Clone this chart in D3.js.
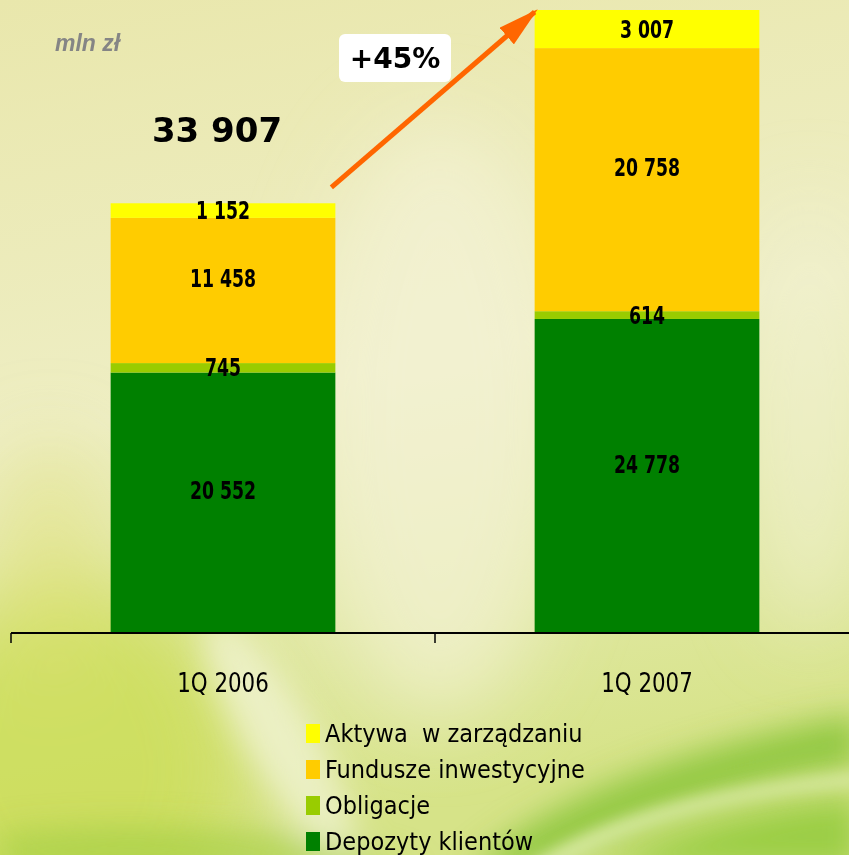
<!DOCTYPE html>
<html>
<head>
<meta charset="utf-8">
<script src="https://cdn.jsdelivr.net/npm/d3@7"></script>
<style>
  body { margin: 0; padding: 0; overflow: hidden; }
  svg { display: block; }
</style>
</head>
<body>
<div id="chart"></div>
<script>
/** categories and series (mln zł) */
var quarters = ["1Q 2006", "1Q 2007"];
var seriesNames = ["Depozyty klientów", "Obligacje", "Fundusze inwestycyjne", "Aktywa  w zarządzaniu"];
var depozyty = [20552, 24778];
var obligacje = [745, 614];
var fundusze = [11458, 20758];
var aktywa = [1152, 3007];
var totalLabel = "33 907";
var growthLabel = "+45%";
var unitLabel = "mln zł";

var colours = ["#008000", "#99cc00", "#ffcc00", "#ffff00"];

var width = 849, height = 855;

var svg = d3.select("#chart")
  .append("svg")
    .attr("width", width)
    .attr("height", height);

/** background */
var defs = svg.append("defs");
var bg = defs.append("linearGradient").attr("id", "bg")
  .attr("x1", 0).attr("y1", 0).attr("x2", 0.2).attr("y2", 1);
bg.append("stop").attr("offset", 0).attr("stop-color", "#e9e7ac");
bg.append("stop").attr("offset", 0.5).attr("stop-color", "#eeeec4");
bg.append("stop").attr("offset", 1).attr("stop-color", "#d6e388");

function blur(id, s) {
  defs.append("filter").attr("id", id).attr("x", "-50%").attr("y", "-50%")
    .attr("width", "200%").attr("height", "200%")
    .append("feGaussianBlur").attr("stdDeviation", s);
}
blur("blurBig", 40);
blur("blurMid", 16);
blur("blurSmall", 7);

svg.append("rect").attr("width", width).attr("height", height).attr("fill", "url(#bg)");

var glow = svg.append("g").attr("filter", "url(#blurBig)");
glow.append("ellipse").attr("cx", 440).attr("cy", 420).attr("rx", 130).attr("ry", 300)
  .attr("fill", "#f3f2d6").attr("opacity", 0.7);
glow.append("ellipse").attr("cx", 810).attr("cy", 420).attr("rx", 60).attr("ry", 220)
  .attr("fill", "#f2f1d4").attr("opacity", 0.6);
glow.append("ellipse").attr("cx", 70).attr("cy", 770).attr("rx", 170).attr("ry", 190)
  .attr("fill", "#cbdd58").attr("opacity", 0.85);
glow.append("ellipse").attr("cx", 50).attr("cy", 560).attr("rx", 60).attr("ry", 120)
  .attr("fill", "#dfe27a").attr("opacity", 0.5);

var streaks = svg.append("g").attr("filter", "url(#blurMid)");
streaks.append("ellipse").attr("cx", 280).attr("cy", 740).attr("rx", 34).attr("ry", 140)
  .attr("transform", "rotate(-30,280,740)")
  .attr("fill", "#f4f5dc").attr("opacity", 0.7);
streaks.append("path")
  .attr("d", "M0,835 C150,820 300,830 420,870 L0,870 Z")
  .attr("fill", "#a8d048").attr("opacity", 0.8);
streaks.append("path")
  .attr("d", "M470,870 C560,790 700,745 860,715 L860,765 C720,785 600,830 540,870 Z")
  .attr("fill", "#8cc63c").attr("opacity", 0.95);
streaks.append("path")
  .attr("d", "M590,870 C680,825 760,805 860,795 L860,870 Z")
  .attr("fill", "#98cc42").attr("opacity", 0.95);

var thin = svg.append("g").attr("filter", "url(#blurSmall)");
thin.append("path")
  .attr("d", "M520,870 C600,815 720,785 860,772 L860,786 C730,796 620,828 560,870 Z")
  .attr("fill", "#d8eaa2").attr("opacity", 0.85);

/** scales */
var x = d3.scaleBand()
  .domain(quarters)
  .range([11, 859])
  .padding(0);

var barW = x.bandwidth() * 0.53;

var rows = quarters.map(function(q, i) {
  return { quarter: q, Depozyty: depozyty[i], Obligacje: obligacje[i], Fundusze: fundusze[i], Aktywa: aktywa[i] };
});
var keys = ["Depozyty", "Obligacje", "Fundusze", "Aktywa"];
var stacked = d3.stack().keys(keys)(rows);

var maxTotal = d3.max(rows, function(d) { return d.Depozyty + d.Obligacje + d.Fundusze + d.Aktywa; });
var y = d3.scaleLinear()
  .domain([0, maxTotal])
  .range([633, 10]);

/** bars */
var layers = svg.append("g").selectAll("g")
  .data(stacked)
  .enter().append("g")
    .attr("fill", function(d, i) { return colours[i]; });

layers.selectAll("rect")
  .data(function(d) { return d; })
  .enter().append("rect")
    .attr("x", function(d) { return x(d.data.quarter) + (x.bandwidth() - barW) / 2; })
    .attr("y", function(d) { return y(d[1]); })
    .attr("width", barW)
    .attr("height", function(d) { return y(d[0]) - y(d[1]); });

/** value labels */
var fmt = function(v) { return d3.format(",")(v).replace(/,/g, " "); };
var labels = svg.append("g")
  .attr("font-family", "'DejaVu Sans Condensed', 'DejaVu Sans', sans-serif")
  .attr("font-stretch", "condensed")
  .attr("font-weight", "bold")
  .attr("font-size", 24)
  .attr("text-anchor", "middle")
  .attr("fill", "#000");

stacked.forEach(function(layer) {
  layer.forEach(function(d) {
    var h = y(d[0]) - y(d[1]);
    var cy = (y(d[0]) + y(d[1])) / 2 - (h > 100 ? 12 : 0);
    labels.append("text")
      .attr("transform", "translate(" + (x(d.data.quarter) + x.bandwidth() / 2) + "," + cy + ") scale(0.8,1)")
      .attr("dy", "0.36em")
      .text(fmt(d[1] - d[0]));
  });
});

/** x axis */
var axis = svg.append("g");
axis.append("line")
  .attr("x1", x.range()[0]).attr("x2", width)
  .attr("y1", y(0)).attr("y2", y(0))
  .attr("stroke", "#000").attr("stroke-width", 2);
axis.selectAll("line.tick")
  .data(quarters)
  .enter().append("line")
    .attr("class", "tick")
    .attr("x1", function(d) { return x(d); }).attr("x2", function(d) { return x(d); })
    .attr("y1", y(0)).attr("y2", y(0) + 10)
    .attr("stroke", "#000").attr("stroke-width", 1.5);
axis.selectAll("text")
  .data(quarters)
  .enter().append("text")
    .attr("transform", function(d) { return "translate(" + (x(d) + x.bandwidth() / 2) + "," + (y(0) + 59) + ") scale(0.95,1.05)"; })
    .attr("text-anchor", "middle")
    .attr("font-family", "'DejaVu Sans Condensed', 'DejaVu Sans', sans-serif")
    .attr("font-stretch", "condensed")
    .attr("font-size", 25)
    .attr("fill", "#000")
    .text(function(d) { return d; });

/** unit label */
svg.append("text")
  .attr("x", 55).attr("y", 51)
  .attr("font-family", "'Liberation Sans', Arial, sans-serif")
  .attr("font-weight", "bold").attr("font-style", "italic")
  .attr("font-size", 23)
  .attr("fill", "#858585")
  .text(unitLabel);

/** total for 1Q 2006 */
var c0 = x(quarters[0]) + x.bandwidth() / 2;
var t0 = y(rows[0].Depozyty + rows[0].Obligacje + rows[0].Fundusze + rows[0].Aktywa);
svg.append("text")
  .attr("x", c0 - 6).attr("y", t0 - 61)
  .attr("text-anchor", "middle")
  .attr("font-family", "'DejaVu Sans', Verdana, sans-serif")
  .attr("font-weight", "bold")
  .attr("font-size", 34)
  .attr("fill", "#000")
  .text(totalLabel);

/** growth arrow */
defs.append("marker")
  .attr("id", "head")
  .attr("viewBox", "0 0 10 10")
  .attr("refX", 9).attr("refY", 5)
  .attr("markerWidth", 8.2).attr("markerHeight", 4.4)
  .attr("markerUnits", "strokeWidth")
  .attr("orient", "auto")
  .attr("preserveAspectRatio", "none")
  .append("path").attr("d", "M0,0 L10,5 L0,10 Z").attr("fill", "#ff6600");

var b0Right = x(quarters[0]) + (x.bandwidth() + barW) / 2;
var b1Left = x(quarters[1]) + (x.bandwidth() - barW) / 2;
svg.append("line")
  .attr("x1", b0Right - 4).attr("y1", t0 - 16)
  .attr("x2", b1Left).attr("y2", y(maxTotal) + 2)
  .attr("stroke", "#ff6600").attr("stroke-width", 5)
  .attr("marker-end", "url(#head)");

/** growth box */
svg.append("rect")
  .attr("x", 339).attr("y", 34).attr("width", 112).attr("height", 48).attr("rx", 6)
  .attr("fill", "#fff");
svg.append("text")
  .attr("x", 395).attr("y", 58).attr("dy", "0.36em")
  .attr("text-anchor", "middle")
  .attr("font-family", "'DejaVu Sans', Verdana, sans-serif")
  .attr("font-weight", "bold").attr("font-size", 28)
  .attr("fill", "#000")
  .text(growthLabel);

/** legend, top entry = top segment */
var legend = svg.append("g");
var order = [3, 2, 1, 0];
order.forEach(function(k, i) {
  var cy = 733 + i * 36;
  legend.append("rect")
    .attr("x", 306).attr("y", cy - 9).attr("width", 14).attr("height", 19)
    .attr("fill", colours[k]);
  legend.append("text")
    .attr("x", 325).attr("y", cy + 9)
    .attr("font-family", "'DejaVu Sans Condensed', 'DejaVu Sans', sans-serif")
    .attr("font-stretch", "condensed")
    .attr("font-size", 25)
    .attr("fill", "#000")
    .style("white-space", "pre")
    .text(seriesNames[k]);
});
</script>
</body>
</html>
